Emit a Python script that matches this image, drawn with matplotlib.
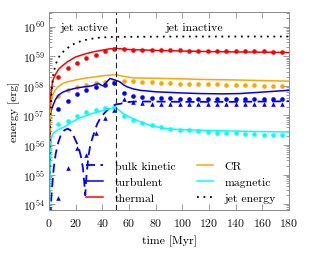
import numpy as np
import matplotlib
matplotlib.use("Agg")
import matplotlib.pyplot as plt
from matplotlib.ticker import LogLocator, LogFormatterMathtext, NullFormatter

plt.rcParams['font.family'] = 'serif'
plt.rcParams['font.serif'] = ['cmr10', 'DejaVu Serif']
plt.rcParams['mathtext.fontset'] = 'cm'
plt.rcParams['axes.formatter.use_mathtext'] = True

# ---------------- data (log10 of energy in erg) ----------------
t_jet = [0.1, 0.3, 0.6, 1, 1.5, 2, 3, 4, 5, 6.5, 8, 10, 13, 16, 20, 25, 30, 35, 40, 45, 50, 60, 100, 140, 180]
log_jet = [53.5, 55.0, 56.3, 57.0, 57.5, 57.85, 58.3, 58.55, 58.72, 58.9, 59.02, 59.13, 59.25, 59.35, 59.45,
           59.53, 59.58, 59.62, 59.64, 59.65, 59.66, 59.66, 59.67, 59.67, 59.67]

t_th = [0.2, 0.5, 1, 2, 3, 5, 7, 10, 14, 20, 27, 33, 39, 45, 50, 55, 60, 80, 100, 120, 140, 160, 180]
log_th = [54.5, 56.5, 57.5, 57.95, 58.2, 58.4, 58.55, 58.68, 58.82, 58.98, 59.08, 59.15, 59.2, 59.25, 59.27,
          59.25, 59.23, 59.2, 59.18, 59.16, 59.15, 59.14, 59.13]

t_cr = [0.2, 0.5, 1, 2, 3, 4.5, 7, 10, 14, 20, 27, 35, 42, 50, 55, 63, 75, 90, 113, 140, 180]
log_cr = [54.5, 56.3, 57.1, 57.55, 57.72, 57.85, 57.98, 58.07, 58.14, 58.2, 58.26, 58.31, 58.35, 58.38,
          58.33, 58.27, 58.26, 58.25, 58.22, 58.2, 58.16]

t_turb = [0.3, 0.75, 1.5, 3, 5, 7, 10, 14, 18, 22, 27, 32, 35, 37, 39, 40.7, 43, 45.7, 48, 50, 53, 56, 58.5,
          63, 68.5, 80, 100, 113, 130, 143, 160, 180]
log_turb = [55.0, 56.95, 57.15, 57.34, 57.55, 57.68, 57.78, 57.85, 57.9, 57.94, 57.97, 58.0, 58.05, 58.08,
            58.03, 58.0, 58.12, 58.25, 58.22, 58.19, 58.14, 58.03, 57.97, 57.9, 57.85, 57.8, 57.76, 57.74,
            57.73, 57.74, 57.79, 57.85]

t_kin = [1.0, 2, 3.5, 5, 7, 9, 11.5, 14, 16, 19, 22, 24, 25.5, 26.5, 27.2, 28, 29.5, 31, 33, 36, 39, 42, 46,
         50, 54, 58, 65, 80, 100, 120, 140, 160, 180]
log_kin = [53.6, 54.4, 55.2, 55.7, 56.1, 56.35, 56.5, 56.55, 56.5, 56.25, 55.95, 55.6, 55.2, 54.7, 54.3,
           54.9, 55.6, 56.0, 56.3, 56.7, 56.95, 57.1, 57.28, 57.37, 57.4, 57.45, 57.47, 57.47, 57.46, 57.46,
           57.46, 57.47, 57.48]

t_mag = [0.3, 0.75, 1.2, 2, 3, 4.5, 6, 8.3, 12, 16, 22, 27, 32, 38, 43, 47, 50, 52, 56, 63, 70, 76, 88, 100,
         113, 130, 150, 180]
log_mag = [53.8, 55.3, 55.9, 56.27, 56.38, 56.44, 56.5, 56.55, 56.62, 56.75, 56.89, 56.98, 57.06, 57.13,
           57.2, 57.24, 57.25, 57.2, 57.05, 56.89, 56.76, 56.66, 56.55, 56.52, 56.5, 56.48, 56.46, 56.44]

# comparison run (markers), sampled every 7 Myr
t_pts = [7, 14, 21, 28, 35, 42, 49, 56, 63, 70, 77, 84, 91, 98, 105, 112, 119, 126, 133, 140, 147, 154, 161,
         168, 175]
log_th_pts = [58.3, 58.6, 58.78, 58.93, 59.05, 59.17, 59.24, 59.24, 59.23, 59.22, 59.21, 59.21, 59.2, 59.2,
              59.19, 59.19, 59.19, 59.18, 59.18, 59.18, 59.17, 59.17, 59.17, 59.16, 59.16]
log_cr_pts = [57.65, 57.85, 57.95, 58.04, 58.1, 58.13, 58.15, 58.16, 58.15, 58.14, 58.12, 58.11, 58.09, 58.08,
              58.07, 58.07, 58.06, 58.05, 58.04, 58.03, 58.02, 58.02, 58.01, 58.0, 57.99]
log_turb_pts = [57.22, 57.5, 57.72, 57.85, 57.95, 58.02, 58.1, 57.76, 57.65, 57.62, 57.6, 57.58, 57.58, 57.57,
                57.57, 57.57, 57.57, 57.57, 57.57, 57.57, 57.57, 57.57, 57.57, 57.57, 57.57]
log_kin_pts = [54.2, 55.22, 55.9, 55.65, 56.42, 56.91, 57.2, 57.55, 57.45, 57.42, 57.4, 57.4, 57.4, 57.4,
               57.4, 57.4, 57.4, 57.4, 57.4, 57.4, 57.4, 57.4, 57.4, 57.4, 57.4]
log_mag_pts = [56.72, 56.82, 56.97, 57.1, 57.18, 57.25, 57.28, 56.97, 56.84, 56.73, 56.66, 56.6, 56.55, 56.52,
               56.5, 56.46, 56.44, 56.42, 56.4, 56.39, 56.37, 56.36, 56.35, 56.34, 56.33]

t_jet_off = 50
x_ticks = [0, 20, 40, 60, 80, 100, 120, 140, 160, 180]

# ---------------- plot ----------------
BLUE, RED, ORANGE, CYAN = '#0000ff', '#ff0000', '#ffa500', '#00ffff'
p = lambda a: 10.0 ** np.asarray(a)

fig = plt.figure(figsize=(3.32, 2.55), dpi=100)
ax = fig.add_axes([49 / 332, 1 - 211 / 255, 240 / 332, 198 / 255])
ax.set_yscale('log')

ms = 3.3
ax.plot(t_pts, p(log_th_pts), 'o', color=RED, ms=ms, mec='none')
ax.plot(t_pts, p(log_cr_pts), 'o', color=ORANGE, ms=ms, mec='none')
ax.plot(t_pts, p(log_mag_pts), 'o', color=CYAN, ms=ms, mec='none')
ax.plot(t_pts, p(log_turb_pts), 'o', color=BLUE, ms=ms, mec='none')
ax.plot(t_pts, p(log_kin_pts), '^', color=BLUE, ms=ms, mec='none')

lk, = ax.plot(t_kin, p(log_kin), color=BLUE, lw=1.3, dashes=(5, 3), label='bulk kinetic')
lt, = ax.plot(t_turb, p(log_turb), color=BLUE, lw=1.1, label='turbulent')
lth, = ax.plot(t_th, p(log_th), color=RED, lw=1.1, label='thermal')
lcr, = ax.plot(t_cr, p(log_cr), color=ORANGE, lw=1.1, label='CR')
lm, = ax.plot(t_mag, p(log_mag), color=CYAN, lw=1.1, label='magnetic')
lj, = ax.plot(t_jet, p(log_jet), color='black', lw=1.3, ls=(0, (1, 2.6)), label='jet energy')

ax.axvline(t_jet_off, color='#222222', lw=0.8, dashes=(5, 3))

ax.set_xlim(0, 180)
ax.set_ylim(10 ** 53.8, 10 ** 60.5)
ax.set_xticks(x_ticks)
ax.yaxis.set_major_locator(LogLocator(base=10, numticks=20))
ax.yaxis.set_major_formatter(LogFormatterMathtext())
ax.yaxis.set_minor_locator(LogLocator(base=10, subs=np.arange(2, 10), numticks=20))
ax.yaxis.set_minor_formatter(NullFormatter())

gray = '#8a8a8a'
for s in ax.spines.values():
    s.set_color(gray)
    s.set_linewidth(0.7)
ax.tick_params(which='both', direction='in', top=True, right=True, color=gray, width=0.6,
               labelsize=8.5, labelcolor='#111111')
ax.tick_params(which='major', length=4)
ax.tick_params(which='minor', length=2)
ax.tick_params(axis='x', pad=4)
ax.tick_params(axis='y', pad=3)

ax.set_xlabel('time [Myr]', fontsize=8.5, labelpad=5)
ax.set_ylabel('energy [erg]', fontsize=8.5, labelpad=2)

ax.text(27, 10 ** 60.0, 'jet active', fontsize=8.5, ha='center', va='center')
ax.text(109, 10 ** 60.0, 'jet inactive', fontsize=8.5, ha='center', va='center')

leg = ax.legend(handles=[lk, lt, lth, lcr, lm, lj], ncol=2, loc='lower left',
                bbox_to_anchor=(0.155, 0.035), frameon=False, fontsize=8.5,
                handlelength=1.4, handletextpad=1.0, columnspacing=1.8,
                labelspacing=0.5, borderpad=0, borderaxespad=0)

fig.savefig('out.png', dpi=100)
